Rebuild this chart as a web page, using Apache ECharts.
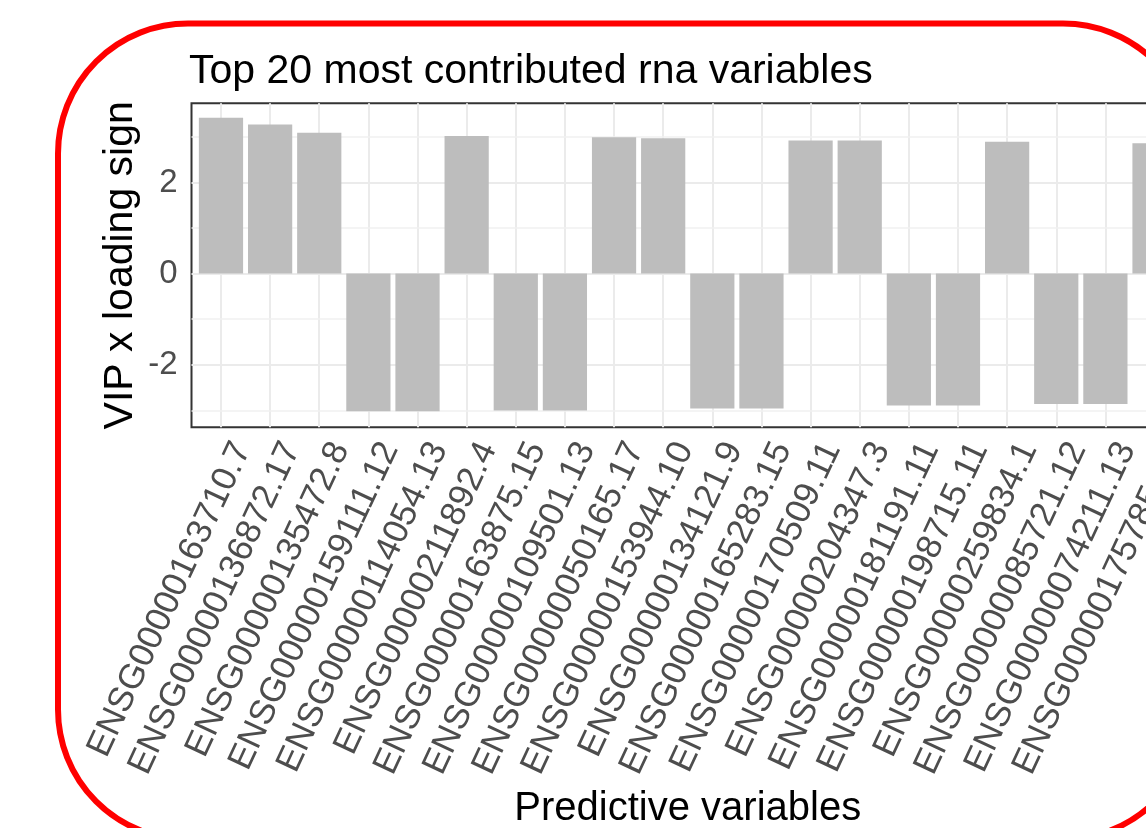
<!DOCTYPE html>
<html>
<head>
<meta charset="utf-8"/>
<title>Top 20 most contributed rna variables</title>
<script src="https://cdn.jsdelivr.net/npm/echarts@6/dist/echarts.min.js"></script>
<style>
    html, body { margin: 0; padding: 0; background: #fff; overflow: hidden; }
    #main { width: 1146px; height: 828px; }
</style>
</head>
<body>
<div id="main"></div>
<script>
    // top 20 rna variables, VIP x sign of loading
    var genes = [
        'ENSG00000163710.7', 'ENSG00000136872.17', 'ENSG00000135472.8', 'ENSG00000159111.12',
        'ENSG00000114054.13', 'ENSG00000211892.4', 'ENSG00000163875.15', 'ENSG00000109501.13',
        'ENSG00000050165.17', 'ENSG00000153944.10', 'ENSG00000134121.9', 'ENSG00000165283.15',
        'ENSG00000170509.11', 'ENSG00000204347.3', 'ENSG00000181191.11', 'ENSG00000198715.11',
        'ENSG00000259834.1', 'ENSG00000085721.12', 'ENSG00000074211.13', 'ENSG00000175785.12'
    ];
    var vipSign = [3.42, 3.27, 3.09, -3.02, -3.02, 3.02, -3.00, -3.00, 2.99, 2.97,
        -2.96, -2.96, 2.92, 2.92, -2.89, -2.89, 2.89, -2.86, -2.86, 2.86];
    var yTicks = [-2, 0, 2];
    var yMinor = [-3, -1, 1, 3];

    var FONT = 'Liberation Sans, Arial, sans-serif';

    var idx = genes.map(function (g, i) { return i; });
    var barData = vipSign.map(function (v, i) { return [i, v]; });

    // ggplot theme_bw grid lines
    var gridLines = [];
    idx.forEach(function (i) {
        gridLines.push({xAxis: i, lineStyle: {color: '#ebebeb', width: 2, type: 'solid'}});
    });
    yTicks.forEach(function (v) {
        gridLines.push({yAxis: v, lineStyle: {color: '#ebebeb', width: 2, type: 'solid'}});
    });
    yMinor.forEach(function (v) {
        gridLines.push({yAxis: v, lineStyle: {color: '#f0f0f0', width: 1.5, type: 'solid'}});
    });

    var chart = echarts.init(document.getElementById('main'), null, {renderer: 'canvas'});
    var option = {
        animation: false,
        backgroundColor: '#fff',
        title: {
            text: 'Top 20 most contributed rna variables',
            left: 189,
            top: 51,
            padding: 0,
            textStyle: {color: '#000', fontSize: 41, fontWeight: 'normal', fontFamily: FONT}
        },
        grid: {
            left: 191.5,
            top: 103.3,
            width: 992.5,
            height: 324,
            show: true,
            backgroundColor: '#fff',
            borderColor: '#333',
            borderWidth: 2,
            containLabel: false,
            outerBoundsMode: 'none'
        },
        xAxis: {
            type: 'value',
            min: -0.6,
            max: 19.6,
            name: 'Predictive variables',
            nameLocation: 'middle',
            nameGap: 362,
            nameMoveOverlap: false,
            nameTextStyle: {color: '#000', fontSize: 40, fontFamily: FONT},
            axisLine: {show: false},
            splitLine: {show: false},
            axisTick: {
                show: true, length: 6, customValues: idx,
                lineStyle: {color: '#333', width: 2}
            },
            axisLabel: {
                show: true,
                customValues: idx,
                rotate: 65,
                margin: 7,
                align: 'right',
                verticalAlign: 'top',
                padding: [6, 0, 0, 0],
                color: '#4d4d4d',
                fontSize: 35,
                fontFamily: FONT,
                formatter: function (v) { return genes[Math.round(v)]; }
            }
        },
        yAxis: {
            type: 'value',
            min: -3.37,
            max: 3.735,
            name: 'VIP x loading sign',
            nameLocation: 'middle',
            nameGap: 50,
            nameMoveOverlap: false,
            nameTextStyle: {color: '#000', fontSize: 41, fontFamily: FONT},
            axisLine: {show: false},
            splitLine: {show: false},
            axisTick: {
                show: true, length: 6, customValues: yTicks,
                lineStyle: {color: '#333', width: 2}
            },
            axisLabel: {
                show: true,
                customValues: yTicks,
                margin: 14,
                color: '#4d4d4d',
                fontSize: 33,
                fontFamily: FONT
            }
        },
        series: [{
            type: 'bar',
            data: barData,
            barWidth: '90%',
            itemStyle: {color: '#bdbdbd'},
            z: 3,
            markLine: {
                silent: true,
                symbol: ['none', 'none'],
                label: {show: false},
                z: 1,
                animation: false,
                data: gridLines
            }
        }],
        graphic: [{
            type: 'rect',
            z: 100,
            silent: true,
            shape: {x: 58, y: 23.5, width: 1135, height: 816, r: 130},
            style: {fill: 'none', stroke: '#ff0000', lineWidth: 6}
        }]
    };
    chart.setOption(option);
</script>
</body>
</html>
